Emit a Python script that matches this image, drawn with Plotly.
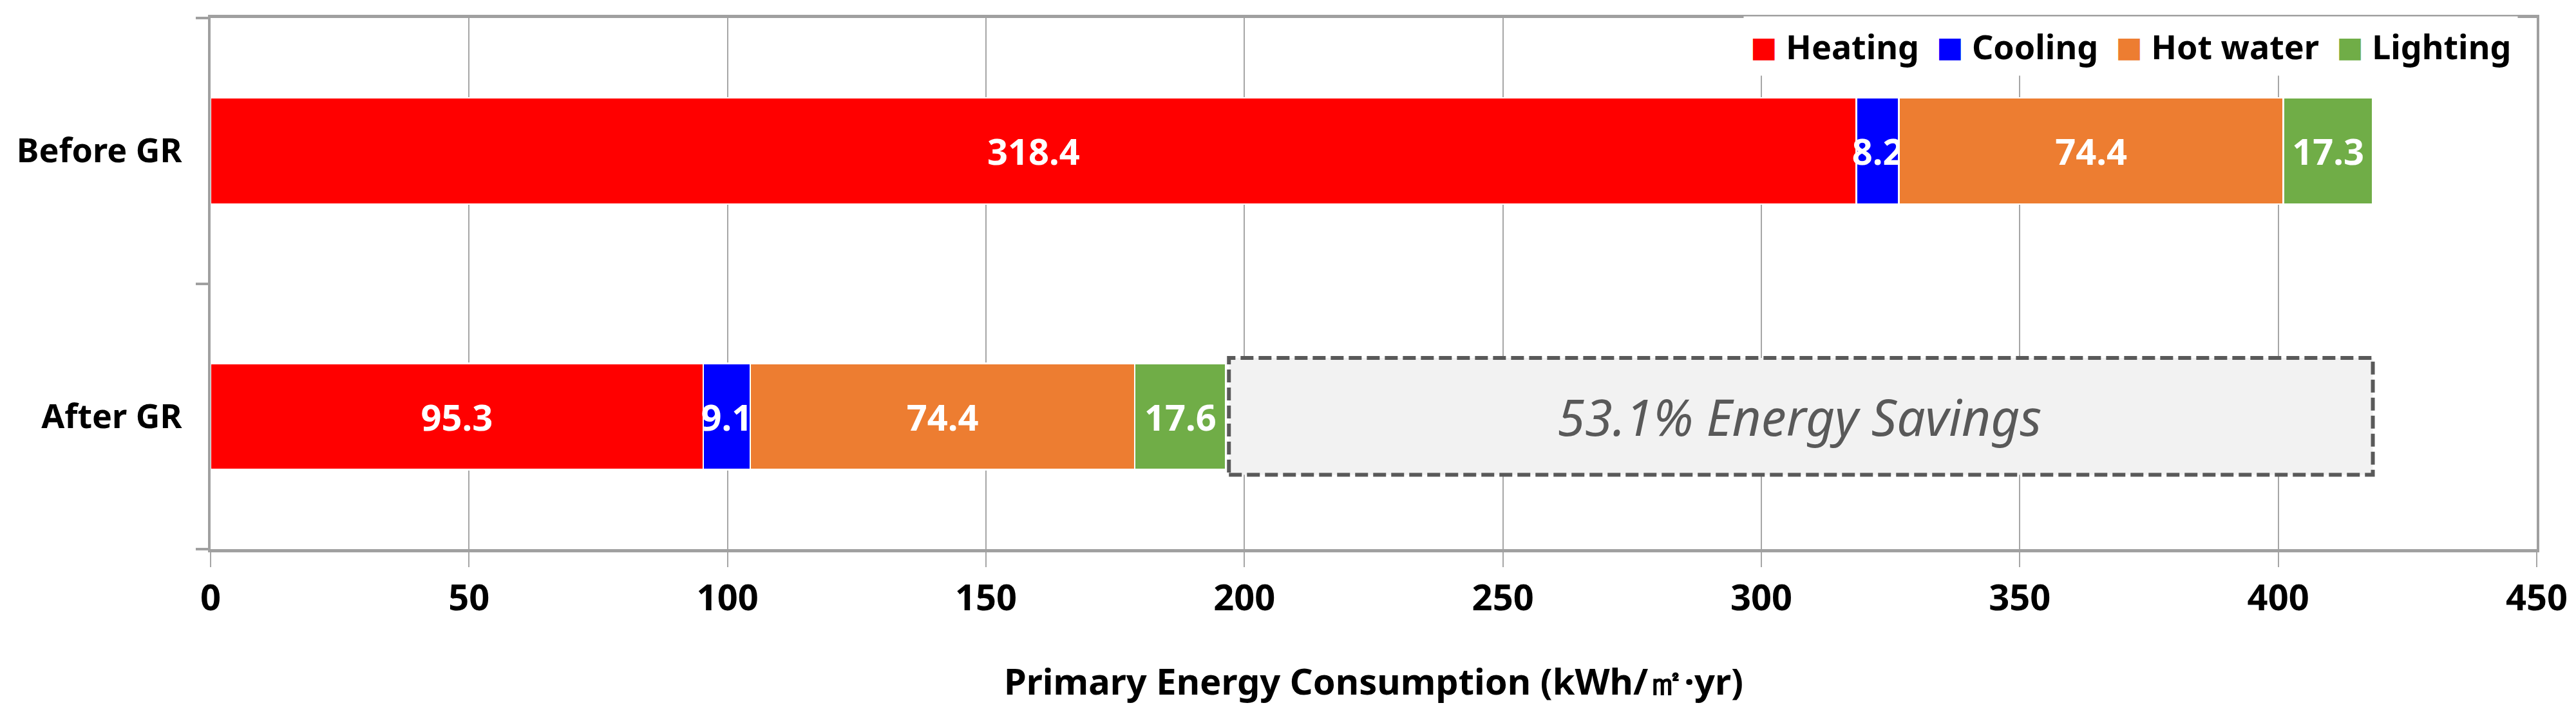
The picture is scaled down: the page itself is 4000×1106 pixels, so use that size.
import plotly.graph_objects as go

# categories (bottom to top as plotly draws them)
cases = ["After GR", "Before GR"]

# end-use series, kWh/m2.yr
series_names = ["Heating", "Cooling", "Hot water", "Lighting"]
heating = [95.3, 318.4]
cooling = [9.1, 8.2]
hot_water = [74.4, 74.4]
lighting = [17.6, 17.3]
series_colors = ["#FF0000", "#0000FF", "#ED7D31", "#70AD47"]

x_ticks = [0, 50, 100, 150, 200, 250, 300, 350, 400, 450]
savings_text = "53.1% Energy Savings"

FONT = "Noto Sans, Open Sans, DejaVu Sans, sans-serif"
GRID = "#A6A6A6"

fig = go.Figure()

for name, vals, color in zip(series_names, [heating, cooling, hot_water, lighting], series_colors):
    fig.add_trace(go.Bar(
        y=cases,
        x=vals,
        name=name,
        orientation="h",
        marker=dict(color=color, line=dict(color="white", width=2.5)),
        text=[f"{v:.1f}" for v in vals],
        textposition="inside",
        insidetextanchor="middle",
        textangle=0,
        constraintext="none",
        textfont=dict(family=FONT, size=56, color="white", weight="bold"),
        showlegend=False,
    ))

# savings box between the two totals on the "After GR" row
total_after = sum(v[0] for v in [heating, cooling, hot_water, lighting])
total_before = sum(v[1] for v in [heating, cooling, hot_water, lighting])

fig.add_shape(
    type="rect",
    xref="x", yref="y",
    x0=total_after + 0.6, x1=total_before,
    y0=-0.22, y1=0.22,
    fillcolor="#F2F2F2",
    line=dict(color="#595959", width=6, dash="20px,8px"),
    layer="above",
)
fig.add_annotation(
    x=(total_after + total_before) / 2, y=0,
    xref="x", yref="y",
    text=savings_text,
    showarrow=False,
    font=dict(family=FONT, size=78, color="#595959", style="italic"),
)

# legend drawn as one rich-text line, keys coloured from the series
legend_text = "  ".join(
    f"<span style='color:{c};font-family:DejaVu Sans;font-size:44px;baseline-shift:4px'>■</span> {n}"
    for n, c in zip(series_names, series_colors)
)
fig.add_annotation(
    x=0.992, y=0.947,
    xref="paper", yref="paper",
    xanchor="right", yanchor="middle",
    text=legend_text,
    showarrow=False,
    bgcolor="white",
    borderpad=10,
    font=dict(family=FONT, size=52, color="black", weight="bold"),
)

fig.update_layout(
    barmode="stack",
    bargap=0.6,
    width=4000,
    height=1106,
    margin=dict(l=319, r=69, t=20, b=261),
    plot_bgcolor="white",
    paper_bgcolor="white",
    showlegend=False,
)

fig.update_xaxes(
    range=[0, 450],
    tickvals=x_ticks,
    showgrid=True,
    gridcolor=GRID,
    gridwidth=2,
    showline=True,
    linecolor="#A0A0A0",
    linewidth=5,
    mirror=True,
    ticks="outside",
    ticklen=23,
    tickwidth=2,
    tickcolor=GRID,
    ticklabelstandoff=0,
    tickfont=dict(family=FONT, size=56, color="black", weight="bold"),
    title=dict(
        text="Primary Energy Consumption (kWh/㎡·yr)",
        font=dict(family=FONT, size=56, color="black", weight="bold"),
        standoff=78,
    ),
    zeroline=False,
)

fig.update_yaxes(
    categoryorder="array",
    categoryarray=cases,
    showgrid=False,
    showline=True,
    linecolor="#A0A0A0",
    linewidth=4,
    mirror=True,
    ticks="outside",
    tickson="boundaries",
    ticklen=19,
    tickwidth=4,
    tickcolor="#A0A0A0",
    ticklabelstandoff=30,
    tickfont=dict(family=FONT, size=52, color="black", weight="bold"),
)

fig.write_html("out.html")
